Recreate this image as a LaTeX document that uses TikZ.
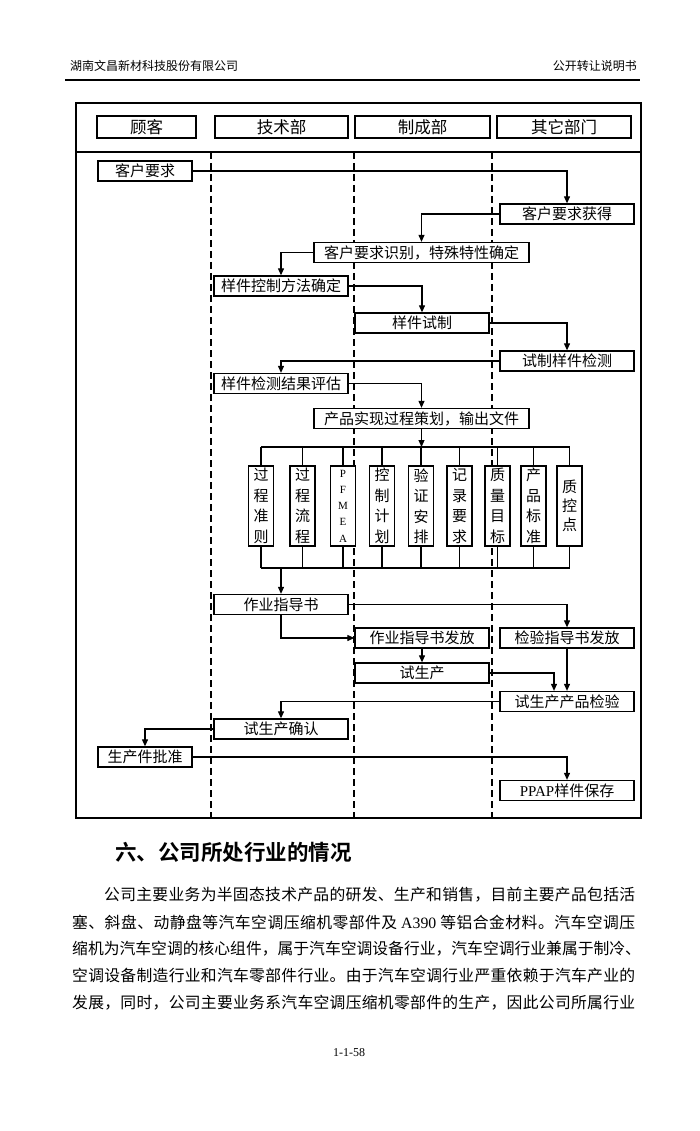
\documentclass[tikz,border=0pt]{standalone}
\usepackage{fontspec}
\setmainfont{Noto Sans CJK SC}[BoldFont={Noto Sans CJK SC Bold}]
\newfontfamily\tnr{Liberation Serif}
\usetikzlibrary{arrows.meta,calc}
\makeatletter
\newcommand\spr[1]{\spr@a#1\relax}
\def\spr@a#1{#1\spr@b}
\def\spr@b#1{\ifx\relax#1\else\hfil#1\expandafter\spr@b\fi}
\makeatother
\begin{document}
\begin{tikzpicture}[x=1pt,y=-1pt,
  box/.style={draw,fill=white,line width=1.3pt,minimum height=20pt,inner sep=0pt,font=\fontsize{15}{15}\selectfont},
  lanehead/.style={draw,line width=1.3pt,minimum height=22pt,inner sep=0pt,font=\fontsize{16.5}{16.5}\selectfont},
  wa/.style={box,minimum width=94pt},
  wb/.style={box,minimum width=134pt},
  wide/.style={box,minimum width=215pt},
  vbox/.style={draw,fill=white,line width=1.3pt,minimum width=25pt,minimum height=80pt,inner sep=0pt,align=center,font=\fontsize{15}{20.5}\selectfont},
  conn/.style={line width=1.1pt},
  arr/.style={conn,-{Triangle[length=7pt,width=6pt]}},
  lane/.style={line width=1.2pt,dash pattern=on 7pt off 4pt},
  para/.style={anchor=west,inner sep=0pt,font=\fontsize{15.8}{16}\selectfont},
  small/.style={inner sep=0pt,font=\fontsize{12}{12}\selectfont}
]
\useasboundingbox[fill=white] (0,0) rectangle (700,1131);

% page header
\node[small,anchor=west] (hl) at (70,66) {湖南文昌新材科技股份有限公司};
\node[small,anchor=east] (hr) at (637,66) {公开转让说明书};
\draw[line width=1.2pt] (65,80) -- (640,80);

% frame
\draw[line width=1.3pt] (76,103) rectangle (641,818);
\draw[line width=1.3pt] (76,152) -- (641,152);
\draw[lane] (211,152) -- (211,818);
\draw[lane] (354,152) -- (354,818);
\draw[lane] (492,152) -- (492,818);

% lane headers
\node[lanehead,minimum width=99pt] (gk) at (146.5,127) {顾客};
\node[lanehead,minimum width=133pt] (js) at (281.5,127) {技术部};
\node[lanehead,minimum width=135pt] (zc) at (422.5,127) {制成部};
\node[lanehead,minimum width=134pt] (qt) at (564,127) {其它部门};

% flow boxes
\node[wa] (A) at (145,171) {客户要求};
\node[wb] (B) at (567,214) {客户要求获得};
\node[wide] (C) at (421.5,252.5) {客户要求识别，特殊特性确定};
\node[wb] (D) at (281,286) {样件控制方法确定};
\node[wb] (E) at (422,323) {样件试制};
\node[wb] (F) at (567,361) {试制样件检测};
\node[wb] (G) at (281,383.5) {样件检测结果评估};
\node[wide] (H) at (421.5,418.5) {产品实现过程策划，输出文件};

\coordinate (bt) at (421,447);
\coordinate (bb) at (421,568);
\node[vbox] (v1) at (261,506) {过\\程\\准\\则};
\node[vbox] (v2) at (302.5,506) {过\\程\\流\\程};
\node[vbox,font=\tnr\fontsize{11}{16.3}\selectfont] (v3) at (343,506) {P\\F\\M\\E\\A};
\node[vbox] (v4) at (382,506) {控\\制\\计\\划};
\node[vbox] (v5) at (421,506) {验\\证\\安\\排};
\node[vbox] (v6) at (459.5,506) {记\\录\\要\\求};
\node[vbox] (v7) at (497.5,506) {质\\量\\目\\标};
\node[vbox] (v8) at (533.5,506) {产\\品\\标\\准};
\node[vbox,font=\fontsize{15}{19}\selectfont] (v9) at (569.5,506) {质\\控\\点};

\node[wb] (I) at (281,604.5) {作业指导书};
\node[wb] (J) at (422,638) {作业指导书发放};
\node[wb] (K) at (567,638) {检验指导书发放};
\node[wb] (L) at (422,673) {试生产};
\node[wb] (M) at (567,701.5) {试生产产品检验};
\node[wb] (N) at (281,729) {试生产确认};
\node[wa] (O) at (145,757) {生产件批准};
\node[wb] (P) at (567,790.5) {{\tnr PPAP}样件保存};

% connectors
\draw[arr] (A.east) -| (B.north);
\draw[arr] (B.west) -| (C.north);
\draw[arr] (C.west) -| (D.north);
\draw[arr] (D.east) -| (E.north);
\draw[arr] (E.east) -| (F.north);
\draw[arr] (F.west) -| (G.north);
\draw[arr] (G.east) -| (H.north);
\draw[arr] (H.south) -- (H.south |- bt);
\draw[conn] (v1.north |- bt) -- (v9.north |- bt);
\draw[conn] (v1.south |- bb) -- (v9.south |- bb);
\foreach \v in {v1,v2,v3,v4,v5,v6,v7,v8,v9}{
  \draw[conn] (\v.north) -- (\v.north |- bt);
  \draw[conn] (\v.south) -- (\v.south |- bb);
}
\draw[arr] (I.north |- bb) -- (I.north);
\draw[arr] (I.east) -| (K.north);
\draw[arr] (I.south) |- (J.west);
\draw[arr] (J.south) -- (L.north);
\draw[arr] (L.east) -| ([xshift=-13pt]M.north);
\draw[arr] (K.south) -- (M.north);
\draw[arr] (M.west) -| (N.north);
\draw[arr] (N.west) -| (O.north);
\draw[arr] (O.east) -| (P.north);

% text below
\node[anchor=west,inner sep=0pt,font=\bfseries\fontsize{21.5}{21.5}\selectfont] (hd) at (115,852) {六、公司所处行业的情况};
\node[para] (p1) at (104,895) {\hbox to 531pt{\spr{公司主要业务为半固态技术产品的研发、生产和销售，目前主要产品包括活}}};
\node[para] (p2) at (72,922) {\hbox to 563pt{\spr{塞、斜盘、动静盘等汽车空调压缩机零部件及}\hfil\ {\tnr A390}\ \hfil\spr{等铝合金材料。汽车空调压}}};
\node[para] (p3) at (72,948.5) {\hbox to 563pt{\spr{缩机为汽车空调的核心组件，属于汽车空调设备行业，汽车空调行业兼属于制冷、}}};
\node[para] (p4) at (72,976) {\hbox to 563pt{\spr{空调设备制造行业和汽车零部件行业。由于汽车空调行业严重依赖于汽车产业的}}};
\node[para] (p5) at (72,1003) {\hbox to 563pt{\spr{发展，同时，公司主要业务系汽车空调压缩机零部件的生产，因此公司所属行业}}};
\node[inner sep=0pt,font=\tnr\fontsize{12}{12}\selectfont] (pg) at (349,1053) {1-1-58};
\end{tikzpicture}
\end{document}
